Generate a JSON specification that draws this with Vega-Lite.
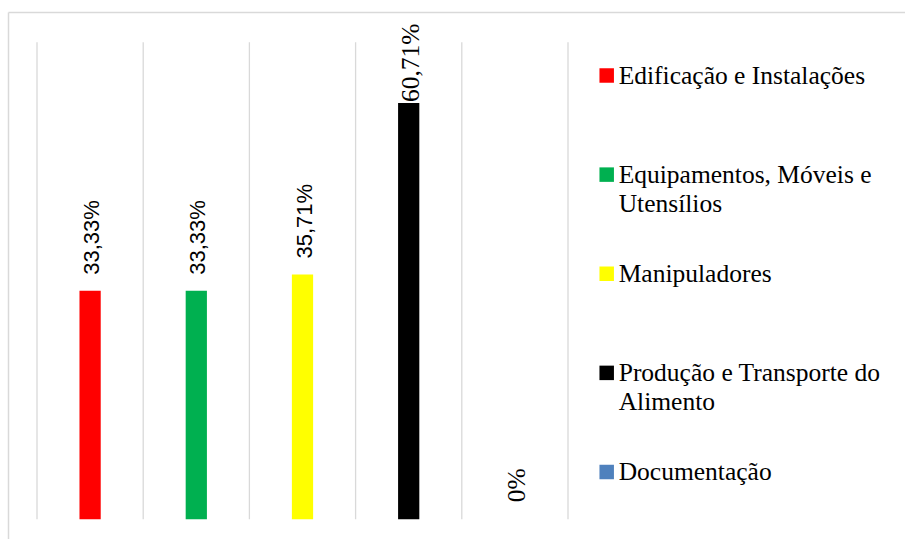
{
  "$schema": "https://vega.github.io/schema/vega-lite/v6.json",
  "width": 897,
  "height": 527,
  "autosize": {"type": "none"},
  "padding": {"left": 8, "top": 12, "right": 0, "bottom": 0},
  "background": "white",
  "config": {
    "view": {"stroke": null},
    "locale": {"number": {"decimal": ",", "thousands": ".", "grouping": [3], "currency": ["R$", ""]}}
  },
  "data": {
    "values": [
      {"categoria": "Edificação e Instalações", "legenda": "Edificação e Instalações", "valor": 0.3333},
      {"categoria": "Equipamentos, Móveis e Utensílios", "legenda": "Equipamentos, Móveis e\nUtensílios", "valor": 0.3333},
      {"categoria": "Manipuladores", "legenda": "Manipuladores", "valor": 0.3571},
      {"categoria": "Produção e Transporte do Alimento", "legenda": "Produção e Transporte do\nAlimento", "valor": 0.6071},
      {"categoria": "Documentação", "legenda": "Documentação", "valor": 0}
    ]
  },
  "layer": [
    {
      "encoding": {
        "x": {
          "field": "categoria", "type": "nominal", "sort": null,
          "scale": {"range": [29, 560], "paddingInner": 0, "paddingOuter": 0},
          "axis": null
        },
        "y": {
          "field": "valor", "type": "quantitative",
          "scale": {"domain": [-0.0287, 0.74], "nice": false, "zero": false},
          "axis": {"orient": "left", "domain": true, "domainColor": "#d9d9d9", "domainWidth": 1.5, "labels": false, "ticks": false, "grid": false, "title": null}
        },
        "color": {
          "field": "categoria", "type": "nominal", "sort": null,
          "scale": {
            "domain": ["Edificação e Instalações", "Equipamentos, Móveis e Utensílios", "Manipuladores", "Produção e Transporte do Alimento", "Documentação"],
            "range": ["#FF0000", "#00B050", "#FFFF00", "#000000", "#4F81BD"]
          },
          "legend": null
        }
      },
      "layer": [
        {
          "mark": {"type": "rule", "strokeWidth": 1.3},
          "encoding": {
            "x": {"field": "categoria", "type": "nominal", "sort": null, "bandPosition": 0},
            "y": {"datum": 0},
            "y2": {"datum": 0.696},
            "color": {"value": "#d9d9d9"}
          }
        },
        {
          "transform": [{"filter": "datum.categoria == 'Documentação'"}],
          "mark": {"type": "rule", "strokeWidth": 1.3},
          "encoding": {
            "x": {"field": "categoria", "type": "nominal", "sort": null, "bandPosition": 1},
            "y": {"datum": 0},
            "y2": {"datum": 0.696},
            "color": {"value": "#d9d9d9"}
          }
        },
        {"mark": {"type": "bar", "width": {"band": 0.2}}},
        {
          "transform": [{"filter": "datum.valor > 0 && datum.valor < 0.5"}],
          "mark": {"type": "text", "angle": 270, "align": "left", "baseline": "middle", "dx": 16, "dy": 2, "font": "Liberation Sans", "fontSize": 22},
          "encoding": {"text": {"field": "valor", "type": "quantitative", "format": ".2~%"}, "color": {"value": "black"}}
        },
        {
          "transform": [{"filter": "datum.valor >= 0.5"}],
          "mark": {"type": "text", "angle": 270, "align": "left", "baseline": "middle", "dx": 1, "dy": 2, "font": "Liberation Serif", "fontSize": 25.5},
          "encoding": {"text": {"field": "valor", "type": "quantitative", "format": ".2~%"}, "color": {"value": "black"}}
        },
        {
          "transform": [{"filter": "datum.valor == 0"}],
          "mark": {"type": "text", "angle": 270, "align": "left", "baseline": "middle", "dx": 17, "dy": 2, "font": "Liberation Serif", "fontSize": 25.5},
          "encoding": {"text": {"field": "valor", "type": "quantitative", "format": ".2~%"}, "color": {"value": "black"}}
        }
      ]
    },
    {
      "encoding": {
        "x": {
          "datum": 598.7, "type": "quantitative",
          "scale": {"domain": [0, 897], "nice": false},
          "axis": {"orient": "top", "domain": true, "domainColor": "#d9d9d9", "domainWidth": 1.5, "labels": false, "ticks": false, "grid": false, "title": null}
        },
        "y": {"field": "categoria", "type": "nominal", "sort": null, "scale": {"type": "point", "range": [63.5, 460], "padding": 0}, "axis": null}
      },
      "layer": [
        {
          "mark": {"type": "square", "size": 210, "opacity": 1, "filled": true},
          "encoding": {
            "color": {
              "field": "categoria", "type": "nominal", "sort": null,
              "scale": {
                "domain": ["Edificação e Instalações", "Equipamentos, Móveis e Utensílios", "Manipuladores", "Produção e Transporte do Alimento", "Documentação"],
                "range": ["#FF0000", "#00B050", "#FFFF00", "#000000", "#4F81BD"]
              },
              "legend": null
            }
          }
        },
        {
          "mark": {"type": "text", "align": "left", "baseline": "top", "dx": 12, "dy": -12, "font": "Liberation Serif", "fontSize": 25.5, "lineHeight": 29.5, "lineBreak": "\n"},
          "encoding": {"text": {"field": "legenda"}, "color": {"value": "black"}}
        }
      ]
    }
  ],
  "resolve": {"scale": {"x": "independent", "y": "independent"}}
}
